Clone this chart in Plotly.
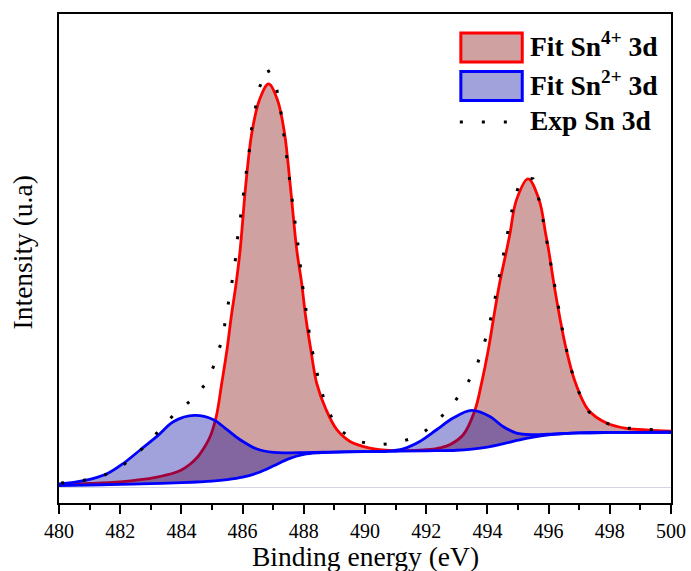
import plotly.graph_objects as go

# Binding energy (eV) / intensity (a.u.) for each curve of the Sn 3d XPS fit

# Shirley background
bg_energy = [480.0, 481.0, 482.0, 483.0, 484.0, 484.5, 485.0, 485.5, 486.0, 486.5,
             487.0, 487.5, 488.0, 488.5, 489.0, 490.0, 491.0, 492.0, 493.0, 493.5,
             494.0, 494.5, 495.0, 495.5, 496.0, 496.5, 497.0, 498.0, 499.0, 500.0]
bg_intensity = [1.3, 2.0, 2.7, 3.3, 4.3, 5.0, 5.8, 7.3, 9.8, 14.3,
                21.0, 28.2, 32.6, 34.3, 35.0, 35.5, 35.8, 36.2, 36.8, 38.0,
                40.0, 43.2, 46.8, 50.0, 52.2, 53.4, 54.2, 54.6, 54.7, 54.8]

# Sn4+ 3d fit (background included)
sn4_energy = [480.0, 481.0, 482.0, 482.66, 483.2, 483.75, 484.0, 484.29, 484.5, 484.7,
              484.94, 485.14, 485.32, 485.49, 485.63, 485.79, 485.92, 486.11, 486.30, 486.55,
              486.85, 487.14, 487.37, 487.55, 487.77, 487.93, 488.06, 488.23, 488.42, 488.73,
              489.08, 489.51, 490.16, 490.9, 491.5, 492.01, 492.5, 492.77, 493.21, 493.59,
              493.81, 494.03, 494.21, 494.40, 494.63, 494.74, 494.95, 495.33, 495.69, 495.90,
              496.00, 496.17, 496.36, 496.58, 496.88, 497.29, 497.89, 498.54, 499.3, 500.0]
sn4_intensity = [2.3, 3.5, 5.2, 7.3, 10.0, 14.0, 17.0, 23.0, 29.0, 37.3,
                 50.6, 70.6, 104.0, 137.3, 170.6, 204.0, 237.3, 304.3, 354.0, 387.3,
                 403.3, 387.3, 354.0, 304.3, 237.3, 204.0, 170.6, 137.3, 104.0, 77.3,
                 57.3, 45.6, 39.0, 36.5, 36.5, 37.3, 39.5, 42.3, 52.3, 76.6,
                 104.0, 137.3, 170.6, 204.0, 237.3, 254.0, 287.3, 308.3, 287.3, 254.0,
                 237.3, 204.0, 170.6, 137.3, 104.0, 77.3, 64.0, 58.6, 57.0, 56.0]

# Sn2+ 3d fit (background included)
sn2_energy = [480.0, 480.81, 481.57, 482.12, 482.66, 483.2, 483.75, 484.42, 485.05, 485.49,
              485.92, 486.47, 487.01, 487.5, 488.0, 489.0, 490.0, 490.7, 491.25, 491.79,
              492.34, 492.88, 493.48, 494.08, 494.51, 494.95, 495.49, 496.0, 497.0, 498.0,
              499.0, 500.0]
sn2_intensity = [3.0, 6.3, 13.3, 24.0, 37.3, 50.6, 65.6, 71.6, 67.3, 57.3,
                 47.3, 38.0, 34.6, 34.2, 34.4, 35.0, 35.4, 35.8, 38.3, 45.6,
                 57.3, 69.0, 76.6, 70.6, 60.6, 54.0, 52.3, 52.8, 54.2, 54.6,
                 54.7, 54.8]

# Experimental Sn 3d spectrum
exp_energy = [480.07, 480.79, 481.49, 482.14, 482.72, 483.20, 483.73, 484.27, 484.75, 485.04,
              485.26, 485.41, 485.54, 485.65, 485.76, 485.83, 485.93, 486.01, 486.11, 486.21,
              486.28, 486.41, 486.54, 486.80, 487.09, 487.23, 487.32, 487.42, 487.51, 487.60,
              487.69, 487.77, 487.86, 487.93, 488.02, 488.13, 488.23, 488.37, 488.53, 488.75,
              489.08, 489.62, 490.30, 491.03, 491.74, 492.34, 492.83, 493.24, 493.59, 493.84,
              494.02, 494.19, 494.32, 494.46, 494.59, 494.71, 494.86, 495.09, 495.30, 495.49,
              495.68, 495.82, 495.95, 496.06, 496.20, 496.32, 496.44, 496.58, 496.75, 496.98,
              497.32, 497.86, 498.54, 499.26, 499.98]
exp_intensity = [4.0, 6.6, 12.0, 23.0, 38.3, 54.6, 71.6, 85.6, 101.6, 120.0,
                 140.6, 161.6, 183.3, 204.6, 226.3, 248.0, 269.6, 291.3, 313.0, 334.3,
                 356.0, 377.6, 399.0, 419.0, 401.6, 380.6, 359.0, 337.6, 316.0, 294.3,
                 273.0, 251.3, 230.0, 208.0, 186.3, 164.6, 143.0, 121.6, 100.6, 79.3,
                 59.6, 47.0, 42.0, 44.0, 50.6, 65.0, 81.6, 98.0, 116.6, 137.3,
                 157.3, 179.0, 200.0, 221.6, 243.0, 264.6, 286.0, 307.3, 309.5, 308.3,
                 288.0, 267.0, 245.3, 224.0, 202.3, 180.6, 159.3, 138.0, 116.6, 95.6,
                 75.0, 64.0, 59.0, 57.3, 56.3]

legend_labels = ["<b>Fit Sn<sup>4+</sup> 3d</b>", "<b>Fit Sn<sup>2+</sup> 3d</b>", "<b>Exp Sn 3d</b>"]

RED_FILL = "rgba(128,0,0,0.37)"
BLUE_FILL = "rgba(0,0,160,0.37)"
SERIF = "Liberation Serif, Times New Roman, serif"
DOTS = "3px,19px"

fig = go.Figure()

# Sn4+ envelope filled down to the background
fig.add_trace(go.Scatter(x=bg_energy, y=bg_intensity, mode="lines",
                         line=dict(width=0, shape="spline"), showlegend=False, hoverinfo="skip"))
fig.add_trace(go.Scatter(x=sn4_energy, y=sn4_intensity, mode="lines", fill="tonexty",
                         fillcolor=RED_FILL, line=dict(color="#ff0000", width=2.8, shape="spline"),
                         showlegend=False))
# Sn2+ envelope filled down to the background
fig.add_trace(go.Scatter(x=bg_energy, y=bg_intensity, mode="lines",
                         line=dict(width=0, shape="spline"), showlegend=False, hoverinfo="skip"))
fig.add_trace(go.Scatter(x=sn2_energy, y=sn2_intensity, mode="lines", fill="tonexty",
                         fillcolor=BLUE_FILL, line=dict(color="#0000ff", width=2.8, shape="spline"),
                         showlegend=False))
# background line
fig.add_trace(go.Scatter(x=bg_energy, y=bg_intensity, mode="lines",
                         line=dict(color="#0000ff", width=2.8, shape="spline"), showlegend=False))
# experimental data, dotted
fig.add_trace(go.Scatter(x=exp_energy, y=exp_intensity, mode="lines",
                         line=dict(color="black", width=3, dash=DOTS), showlegend=False))

# plot-area geometry in pixels (691 x 571 canvas)
L, R, T, B = 58.5, 671.5, 14.0, 503.3
W, H = 691, 571


def px(xp):
    return (xp - L) / (R - L)


def py(yp):
    return (B - yp) / (B - T)


# legend built from shapes and text
shapes = [
    dict(type="rect", xref="paper", yref="paper", x0=px(461), x1=px(522.5), y0=py(33), y1=py(62),
         fillcolor=RED_FILL, line=dict(color="#ff0000", width=3)),
    dict(type="rect", xref="paper", yref="paper", x0=px(461), x1=px(522.5), y0=py(71.5), y1=py(100.5),
         fillcolor=BLUE_FILL, line=dict(color="#0000ff", width=3)),
    dict(type="line", xref="paper", yref="paper", x0=px(460), x1=px(526), y0=py(122), y1=py(122),
         line=dict(color="black", width=3, dash=DOTS)),
]
annotations = []
for label, yc in zip(legend_labels, [45.0, 84.0, 121.0]):
    annotations.append(dict(text=label, xref="paper", yref="paper", x=px(529), y=py(yc),
                            xanchor="left", yanchor="middle", showarrow=False, borderpad=0,
                            font=dict(family=SERIF, size=27.5, color="black")))
annotations.append(dict(text="Binding energy (eV)", xref="paper", yref="paper", x=0.5, y=py(557),
                        xanchor="center", yanchor="middle", showarrow=False, borderpad=0,
                        font=dict(family=SERIF, size=27.5, color="black")))
annotations.append(dict(text="Intensity (u.a)", xref="paper", yref="paper", x=px(22), y=py(253),
                        xanchor="center", yanchor="middle", textangle=-90, showarrow=False,
                        borderpad=0, font=dict(family=SERIF, size=27.5, color="black")))

fig.update_layout(
    width=W, height=H,
    margin=dict(l=L, r=W - R, t=T, b=H - B, autoexpand=False),
    paper_bgcolor="white", plot_bgcolor="white",
    showlegend=False,
    shapes=shapes,
    annotations=annotations,
    xaxis=dict(range=[480, 500], tickmode="array", tickvals=list(range(480, 501, 2)),
               ticks="outside", ticklen=9, tickwidth=2, tickcolor="black",
               minor=dict(ticks="outside", dtick=1, ticklen=5, tickwidth=2, tickcolor="black"),
               showline=True, linewidth=2, linecolor="black", mirror=True,
               showgrid=False, zeroline=False, automargin=False,
               tickfont=dict(family=SERIF, size=20, color="black")),
    yaxis=dict(range=[-16, 473.3], showticklabels=False, ticks="", automargin=False,
               showline=True, linewidth=2, linecolor="black", mirror=True,
               showgrid=False, zeroline=True, zerolinecolor="#d4d4e2", zerolinewidth=1),
)

fig.write_html("out.html")
